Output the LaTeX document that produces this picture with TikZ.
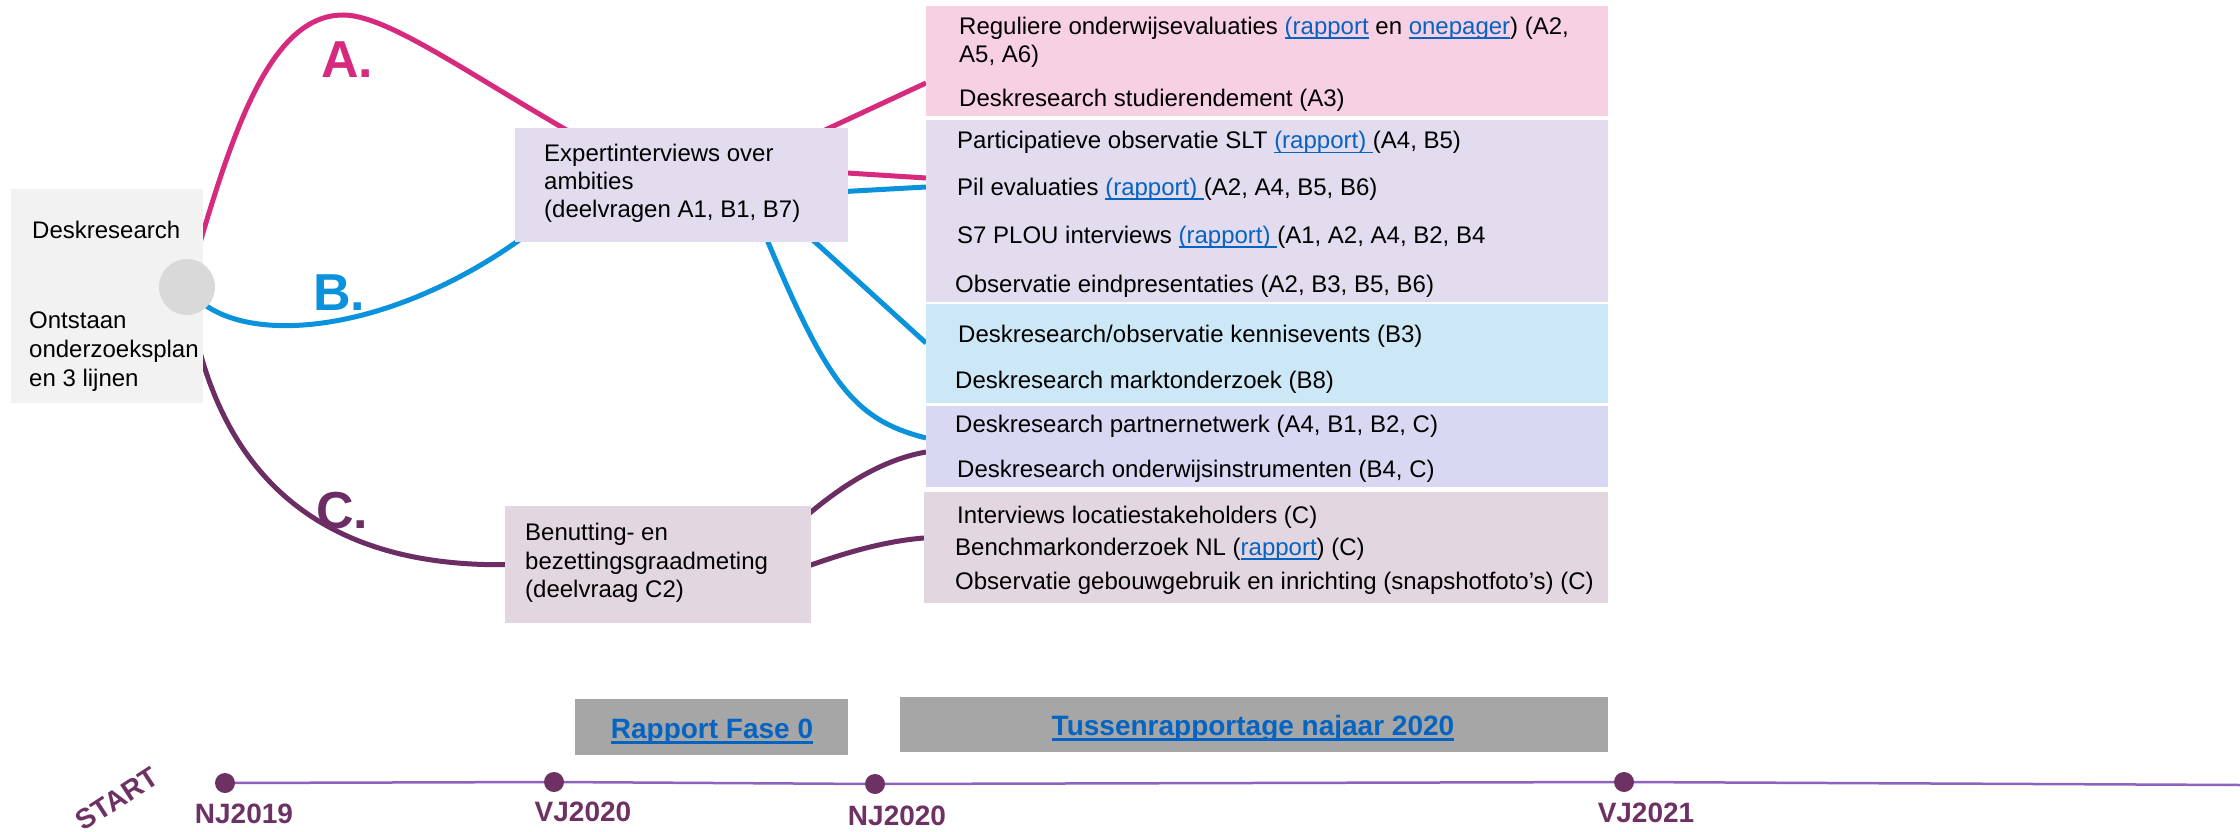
\documentclass[tikz,border=0pt]{standalone}
\usepackage{fontspec}
\setmainfont{Liberation Sans}
\usetikzlibrary{calc}
\definecolor{pinkc}{HTML}{D62A7F}
\definecolor{bluec}{HTML}{0A93DC}
\definecolor{purpc}{HTML}{6B2D63}
\definecolor{pinkbox}{HTML}{F7D0E3}
\definecolor{lavbox}{HTML}{E3DBEE}
\definecolor{bluebox}{HTML}{CCE8F6}
\definecolor{perbox}{HTML}{D9D8F3}
\definecolor{mauvebox}{HTML}{E2D6E0}
\definecolor{deskbox}{HTML}{F2F2F2}
\definecolor{circc}{HTML}{D9D9D9}
\definecolor{grayb}{HTML}{A6A6A6}
\definecolor{linkblue}{HTML}{0563C1}
\definecolor{tlpurple}{HTML}{6E3163}
\definecolor{tlline}{HTML}{8E63BF}
\newcommand\lnk[1]{{\color{linkblue}\setbox0\hbox{#1}\rlap{\rule[-4.5pt]{\wd0}{1.6pt}}\box0}}
\newcommand\lnkb[1]{{\color{linkblue}\setbox0\hbox{#1}\rlap{\rule[-5.5pt]{\wd0}{2.6pt}}\box0}}
\pgfdeclarelayer{bg}
\pgfsetlayers{bg,main}
\begin{document}
\begin{tikzpicture}[x=1pt,y=-1pt,
  box/.style={draw=none, inner sep=0pt, outer sep=0pt, anchor=north west},
  txt/.style={inner sep=0pt, anchor=base west, font=\fontsize{24}{28}\selectfont},
  lbl/.style={inner sep=0pt, anchor=base west, font=\fontsize{52}{60}\selectfont\bfseries},
  tl/.style={inner sep=0pt, anchor=base, font=\fontsize{28}{32}\selectfont\bfseries, text=tlpurple},
  gtxt/.style={inner sep=0pt, anchor=base, font=\fontsize{28}{32}\selectfont\bfseries},
  conn/.style={line width=5pt},
  dot/.style={circle, fill=tlpurple, minimum size=20pt, inner sep=0pt}]
\useasboundingbox (0,0) rectangle (2240,832);

% boxes
\node[box, fill=deskbox, minimum width=192pt, minimum height=214pt] (desk) at (11,189) {};
\node[circle, fill=circc, minimum size=56pt, inner sep=0pt] (circ) at (187,287) {};
\node[box, fill=lavbox, minimum width=333pt, minimum height=114pt] (exp) at (515,128) {};
\node[box, fill=mauvebox, minimum width=306pt, minimum height=117pt] (ben) at (505,506) {};
\node[box, fill=pinkbox, minimum width=682pt, minimum height=110pt] (pbox) at (926,6) {};
\node[box, fill=lavbox, minimum width=682pt, minimum height=182pt] (lbox) at (926,120) {};
\node[box, fill=bluebox, minimum width=682pt, minimum height=99pt] (bbox) at (926,304) {};
\node[box, fill=perbox, minimum width=682pt, minimum height=81pt] (ebox) at (926,406) {};
\node[box, fill=mauvebox, minimum width=684pt, minimum height=111pt] (mbox) at (924,492) {};
\node[box, fill=grayb, minimum width=273pt, minimum height=56pt] (r0) at (575,699) {};
\node[box, fill=grayb, minimum width=708pt, minimum height=55pt] (r1) at (900,697) {};

% connectors
\begin{pgfonlayer}{bg}
\draw[conn, pinkc] (circ.center) .. controls (227,150) and (265,15) .. (343,15)
  .. controls (385,15) and (460,68) .. ($(exp.north west)+(48,0)$) -- ($(exp.north west)+(100,30)$);
\draw[conn, pinkc] ($(exp.north west)+(265,23)$) -- ($(pbox.south west)+(0,-33)$);
\draw[conn, pinkc] ($(exp.north east)+(-48,42)$) -- ($(lbox.north west)+(0,58)$);
\draw[conn, bluec] ($(exp.north east)+(-48,66)$) -- ($(lbox.north west)+(0,67)$);
\draw[conn, bluec] (circ.center) .. controls (230,350) and (385,338) .. ($(exp.south west)+(10,-6)$) -- ($(exp.south west)+(40,-28)$);
\draw[conn, bluec] ($(exp.south west)+(255,-41)$) -- ($(bbox.north west)+(0,39)$);
\draw[conn, bluec] ($(exp.south west)+(249,-10)$) -- ($(exp.south west)+(253,0)$)
  .. controls (828,385) and (855,420) .. ($(ebox.north west)+(0,32)$);
\draw[conn, purpc] (circ.center) .. controls (212,475) and (320,570) .. ($(ben.west)+(10,0)$);
\draw[conn, purpc] ($(ben.north east)+(-20,23)$) -- ($(ben.north east)+(0,6)$)
  .. controls (840,488) and (880,460) .. ($(ebox.south west)+(0,-35)$);
\draw[conn, purpc] ($(ben.north east)+(-20,65)$) -- ($(ben.north east)+(0,59)$)
  .. controls (845,553) and (885,541) .. ($(mbox.north west)+(0,46)$);
\end{pgfonlayer}

% left texts
\node[txt] (t1) at (32,238) {Deskresearch};
\node[txt] (t2) at (29,328) {Ontstaan};
\node[txt] (t3) at (29,357) {onderzoeksplan};
\node[txt] (t4) at (29,386) {en 3 lijnen};

\node[lbl, text=pinkc] (la) at (321,78) {A.};
\node[lbl, text=bluec] (lb) at (313,310) {B.};
\node[lbl, text=purpc] (lc) at (316,528) {C.};

\node[txt] (e1) at (544,161) {Expertinterviews over};
\node[txt] (e2) at (544,189) {ambities};
\node[txt] (e3) at (544,217) {(deelvragen A1, B1, B7)};

\node[txt] (b1) at (525,540) {Benutting- en};
\node[txt] (b2) at (525,569) {bezettingsgraadmeting};
\node[txt] (b3) at (525,597) {(deelvraag C2)};

% right texts
\node[txt] (p1) at (959,34.5) {Reguliere onderwijsevaluaties \lnk{(rapport} en \lnk{onepager}) (A2,};
\node[txt] (p2) at (959,63) {A5, A6)};
\node[txt] (p3) at (959,107) {Deskresearch studierendement (A3)};
\node[txt] (l1) at (957,149) {Participatieve observatie SLT \lnk{(rapport)\ }(A4, B5)};
\node[txt] (l2) at (957,195) {Pil evaluaties \lnk{(rapport)\ }(A2, A4, B5, B6)};
\node[txt] (l3) at (957,243) {S7 PLOU interviews \lnk{(rapport)\ }(A1, A2, A4, B2, B4};
\node[txt] (l4) at (955,292) {Observatie eindpresentaties (A2, B3, B5, B6)};
\node[txt] (k1) at (958,342) {Deskresearch/observatie kennisevents (B3)};
\node[txt] (k2) at (955,388) {Deskresearch marktonderzoek (B8)};
\node[txt] (n1) at (955,432) {Deskresearch partnernetwerk (A4, B1, B2, C)};
\node[txt] (n2) at (957,477) {Deskresearch onderwijsinstrumenten (B4, C)};
\node[txt] (m1) at (957,523) {Interviews locatiestakeholders (C)};
\node[txt] (m2) at (955,555) {Benchmarkonderzoek NL (\lnk{rapport}) (C)};
\node[txt] (m3) at (955,589) {Observatie gebouwgebruik en inrichting (snapshotfoto’s) (C)};

% report boxes text
\node[gtxt] (r0t) at (712,738) {\lnkb{Rapport Fase 0}};
\node[gtxt] (r1t) at (1253,735) {\lnkb{Tussenrapportage najaar 2020}};

% timeline
\node[dot] (d1) at (225,783) {};
\node[dot] (d2) at (554,782) {};
\node[dot] (d3) at (875,784) {};
\node[dot] (d4) at (1624,782) {};
\coordinate (tlend) at (2240,785);
\begin{pgfonlayer}{bg}
\draw[tlline, line width=2.5pt] (d1.center) -- (d2.center) -- (d3.center) -- (d4.center) -- (tlend);
\end{pgfonlayer}
\node[tl] (y1) at (244,823) {NJ2019};
\node[tl] (y2) at (583,821) {VJ2020};
\node[tl] (y3) at (897,825) {NJ2020};
\node[tl] (y4) at (1646,822) {VJ2021};
\node[inner sep=0pt, rotate=33, text=tlpurple, font=\fontsize{28}{32}\selectfont\bfseries] (start) at (117,799) {START};
\end{tikzpicture}
\end{document}
